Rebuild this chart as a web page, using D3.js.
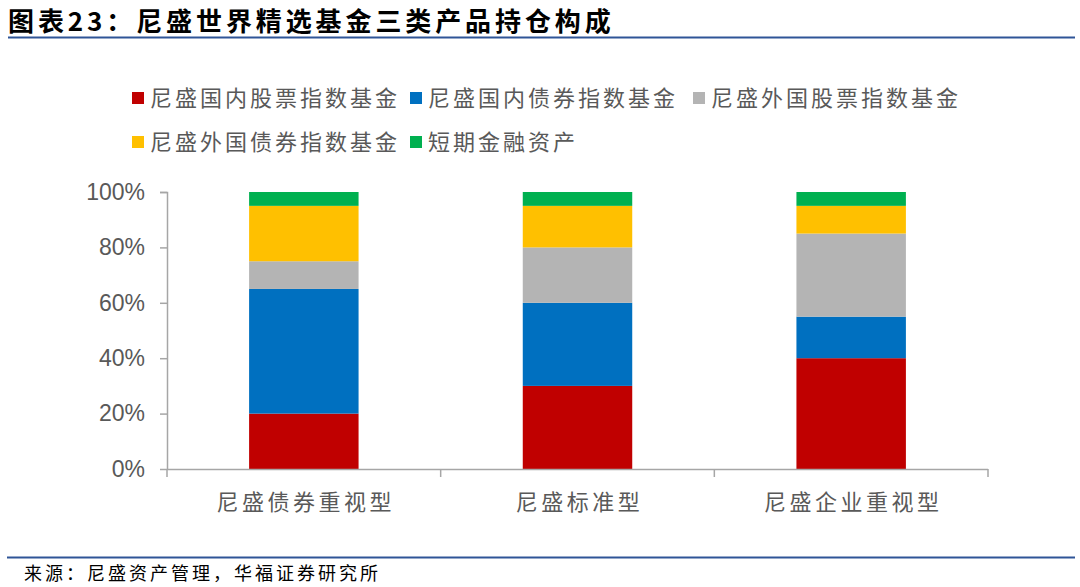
<!DOCTYPE html>
<html>
<head>
<meta charset="utf-8">
<script src="https://cdn.jsdelivr.net/npm/d3@7"></script>
<style>
    body { margin: 0; background: #fff; }
    svg { display: block; font-family: "Noto Sans CJK SC", "Noto Sans", sans-serif; }
</style>
</head>
<body>
<div id="chart"></div>
<script>
// 数据
const categories = ['尼盛债券重视型', '尼盛标准型', '尼盛企业重视型'];
const seriesNames = ['尼盛国内股票指数基金', '尼盛国内债券指数基金', '尼盛外国股票指数基金', '尼盛外国债券指数基金', '短期金融资产'];
const domesticStock = [0.20, 0.30, 0.40];
const domesticBond = [0.45, 0.30, 0.15];
const foreignStock = [0.10, 0.20, 0.30];
const foreignBond = [0.20, 0.15, 0.10];
const shortTerm = [0.05, 0.05, 0.05];
const yTicks = [0, 0.2, 0.4, 0.6, 0.8, 1.0];
const colors = ['#C00000', '#0070C0', '#B4B4B4', '#FFC000', '#00B050'];

const width = 1080, height = 587;
const svg = d3.select('#chart').append('svg')
    .attr('width', width)
    .attr('height', height);

// 标题
svg.append('text')
    .attr('x', 8).attr('y', 31)
    .attr('font-size', 26).attr('font-weight', 'bold')
    .attr('fill', '#000')
    .attr('letter-spacing', 3.9)
    .text('图表23：尼盛世界精选基金三类产品持仓构成');
svg.append('line')
    .attr('x1', 8).attr('x2', 1075).attr('y1', 37.5).attr('y2', 37.5)
    .attr('stroke', '#2F5597').attr('stroke-width', 2);

// 来源
svg.append('line')
    .attr('x1', 7).attr('x2', 1075).attr('y1', 557.5).attr('y2', 557.5)
    .attr('stroke', '#2F5597').attr('stroke-width', 2);
svg.append('text')
    .attr('x', 24).attr('y', 580)
    .attr('font-size', 18).attr('fill', '#000')
    .attr('letter-spacing', 3)
    .text('来源：尼盛资产管理，华福证券研究所');

// 比例尺
const x = d3.scaleBand().domain(categories).range([167, 988]).paddingInner(0.6).paddingOuter(0.3);
const y = d3.scaleLinear().domain([0, 1]).range([469, 192]);

const series = [domesticStock, domesticBond, foreignStock, foreignBond, shortTerm];
const table = categories.map((c, i) => {
    const row = { cat: c };
    seriesNames.forEach((s, j) => row[s] = series[j][i]);
    return row;
});
const stacked = d3.stack().keys(seriesNames)(table);

// 柱
svg.append('g').selectAll('g')
    .data(stacked)
    .join('g')
    .attr('fill', (d, i) => colors[i])
    .selectAll('rect')
    .data(d => d)
    .join('rect')
    .attr('x', d => x(d.data.cat))
    .attr('width', x.bandwidth())
    .attr('y', d => y(d[1]))
    .attr('height', d => y(d[0]) - y(d[1]));

// Y轴
const yAxis = svg.append('g')
    .attr('transform', 'translate(167,0)')
    .call(d3.axisLeft(y).tickValues(yTicks).tickFormat(d3.format('.0%')).tickSize(7).tickPadding(15));
yAxis.select('.domain').attr('stroke', '#A6A6A6').attr('stroke-width', 1.5).attr('d', 'M-7,192.5H0.5V469.5');
yAxis.selectAll('.tick line').attr('stroke', '#A6A6A6').attr('stroke-width', 1.5);
yAxis.selectAll('.tick text')
    .attr('font-size', 23).attr('fill', '#595959')
    .attr('font-family', '"Liberation Sans", Arial, sans-serif');

// X轴
const xAxis = svg.append('g')
    .attr('transform', 'translate(0,469)');
xAxis.append('line')
    .attr('x1', 167).attr('x2', 988).attr('y1', 0.5).attr('y2', 0.5)
    .attr('stroke', '#A6A6A6').attr('stroke-width', 1.5);
xAxis.selectAll('.xtick')
    .data(d3.range(categories.length + 1))
    .join('line')
    .attr('x1', i => 167 + i * (821 / categories.length))
    .attr('x2', i => 167 + i * (821 / categories.length))
    .attr('y1', 0).attr('y2', 8)
    .attr('stroke', '#A6A6A6').attr('stroke-width', 1.5);
xAxis.selectAll('.xlabel')
    .data(categories)
    .join('text')
    .attr('x', d => x(d) + x.bandwidth() / 2 + 2)
    .attr('y', 41)
    .attr('text-anchor', 'middle')
    .attr('font-size', 22).attr('fill', '#595959')
    .attr('letter-spacing', 3.5)
    .text(d => d);

// 图例
const legendPos = [[132, 98], [410, 98], [693, 98], [132, 142], [410, 142]];
const legend = svg.append('g').selectAll('g')
    .data(seriesNames)
    .join('g')
    .attr('transform', (d, i) => `translate(${legendPos[i][0]},${legendPos[i][1]})`);
legend.append('rect')
    .attr('x', 0).attr('y', -6).attr('width', 12).attr('height', 12)
    .attr('fill', (d, i) => colors[i]);
legend.append('text')
    .attr('x', 18).attr('y', 8)
    .attr('font-size', 22).attr('fill', '#595959')
    .attr('letter-spacing', 3)
    .text(d => d);
</script>
</body>
</html>
